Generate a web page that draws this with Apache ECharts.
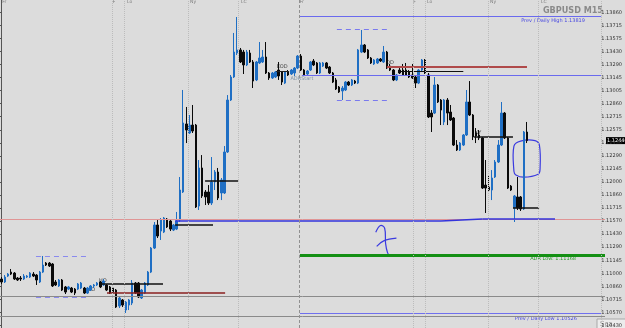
<!DOCTYPE html>
<html><head><meta charset="utf-8">
<script src="https://cdn.jsdelivr.net/npm/echarts/dist/echarts.min.js"></script>
<style>html,body{margin:0;padding:0;background:#dcdcdc;overflow:hidden}#c{width:625px;height:328px}</style>
</head><body><div id="c"></div><script>
// GBPUSD M15 bars
const open=[1.10908,1.10875,1.10941,1.10985,1.10974,1.10919,1.10919,1.10908,1.10930,1.10930,
1.10963,1.10952,1.10875,1.10985,1.11085,1.11085,1.11074,1.10875,1.10831,1.10897,
1.10820,1.10797,1.10808,1.10797,1.10797,1.10808,1.10808,1.10753,1.10786,1.10831,
1.10842,1.10875,1.10842,1.10842,1.10820,1.10808,1.10786,1.10609,1.10676,1.10565,
1.10620,1.10642,1.10864,1.10864,1.10698,1.10753,1.10842,1.10985,1.11251,1.11506,
1.11439,1.11428,1.11572,1.11550,1.11450,1.11461,1.11561,1.11871,1.12624,1.12524,
1.12612,1.12612,1.11716,1.12137,1.11871,1.11871,1.11749,1.11982,1.12092,1.11860,
1.11860,1.12314,1.12889,1.13144,1.13409,1.13443,1.13420,1.13277,1.13409,1.13310,
1.13111,1.13299,1.13310,1.13365,1.13188,1.13133,1.13144,1.13221,1.13199,1.13077,
1.13199,1.13177,1.13188,1.13243,1.13376,1.13221,1.13177,1.13221,1.13321,1.13299,
1.13188,1.13265,1.13299,1.13254,1.13188,1.13111,1.13033,1.12989,1.13000,1.13088,
1.13055,1.13099,1.13077,1.13420,1.13498,1.13443,1.13354,1.13288,1.13299,1.13343,
1.13310,1.13420,1.13265,1.13221,1.13111,1.13221,1.13221,1.13221,1.13199,1.13166,
1.13144,1.13077,1.13221,1.13332,1.13166,1.12745,1.12745,1.13055,1.12889,1.12646,
1.12889,1.12756,1.12690,1.12391,1.12336,1.12391,1.12502,1.12867,1.12723,1.12524,
1.12502,1.12469,1.11948,1.11926,1.11893,1.12037,1.12203,1.12391,1.12745,1.12469,
1.11937,1.11694,1.11816,1.11816,1.11683,1.12535];
const close=[1.10875,1.10930,1.10963,1.10963,1.10908,1.10897,1.10908,1.10941,1.10941,1.10974,
1.10941,1.10897,1.10985,1.11063,1.11063,1.11052,1.10831,1.10842,1.10897,1.10786,
1.10764,1.10820,1.10764,1.10753,1.10853,1.10864,1.10753,1.10808,1.10831,1.10842,
1.10864,1.10820,1.10886,1.10786,1.10753,1.10764,1.10598,1.10698,1.10620,1.10653,
1.10676,1.10864,1.10753,1.10709,1.10786,1.10864,1.10985,1.11251,1.11506,1.11384,
1.11561,1.11583,1.11484,1.11461,1.11506,1.11550,1.11893,1.12635,1.12557,1.12612,
1.12546,1.11705,1.12137,1.11827,1.11816,1.11749,1.11982,1.12092,1.11805,1.12004,
1.12314,1.12889,1.13144,1.13420,1.13443,1.13310,1.13277,1.13420,1.13310,1.13099,
1.13310,1.13354,1.13365,1.13188,1.13133,1.13188,1.13199,1.13155,1.13088,1.13199,
1.13166,1.13221,1.13243,1.13376,1.13221,1.13166,1.13210,1.13310,1.13277,1.13188,
1.13299,1.13299,1.13243,1.13188,1.13088,1.13011,1.12978,1.13022,1.13088,1.13055,
1.13111,1.13077,1.13443,1.13498,1.13420,1.13354,1.13299,1.13332,1.13343,1.13321,
1.13420,1.13243,1.13221,1.13111,1.13166,1.13188,1.13166,1.13166,1.13144,1.13133,
1.13077,1.13221,1.13332,1.13188,1.12701,1.12701,1.13055,1.12867,1.12778,1.12889,
1.12745,1.12668,1.12391,1.12336,1.12413,1.12502,1.12867,1.12723,1.12480,1.12491,
1.12469,1.11915,1.11915,1.11893,1.12026,1.12203,1.12391,1.12745,1.12469,1.11915,
1.11893,1.11827,1.11694,1.11683,1.12535,1.12440];
const low=[1.10853,1.10864,1.10930,1.10952,1.10897,1.10886,1.10886,1.10897,1.10919,1.10919,
1.10930,1.10842,1.10864,1.10974,1.11052,1.11041,1.10820,1.10831,1.10820,1.10775,
1.10742,1.10786,1.10753,1.10731,1.10786,1.10797,1.10742,1.10742,1.10775,1.10808,
1.10831,1.10808,1.10831,1.10775,1.10742,1.10753,1.10587,1.10587,1.10598,1.10532,
1.10565,1.10620,1.10742,1.10698,1.10687,1.10742,1.10831,1.10974,1.11240,1.11362,
1.11340,1.11417,1.11473,1.11439,1.11439,1.11450,1.11539,1.11860,1.12413,1.12513,
1.12524,1.11694,1.11672,1.11805,1.11727,1.11727,1.11727,1.11893,1.11782,1.11782,
1.11849,1.12303,1.12878,1.13133,1.13387,1.13299,1.13177,1.13265,1.13299,1.13022,
1.13099,1.13288,1.13299,1.13177,1.13111,1.13122,1.13133,1.13111,1.13055,1.13066,
1.13155,1.13166,1.13155,1.13232,1.13210,1.13155,1.13166,1.13210,1.13265,1.13177,
1.13177,1.13254,1.13232,1.13177,1.13077,1.13000,1.12967,1.12889,1.12989,1.13044,
1.13044,1.13066,1.13066,1.13409,1.13409,1.13343,1.13288,1.13277,1.13288,1.13310,
1.13299,1.13232,1.13210,1.13099,1.13099,1.13177,1.13155,1.13155,1.13133,1.13122,
1.13022,1.13066,1.13210,1.13177,1.12690,1.12535,1.12734,1.12856,1.12612,1.12612,
1.12612,1.12657,1.12380,1.12325,1.12325,1.12380,1.12491,1.12712,1.12446,1.12413,
1.12446,1.11904,1.11639,1.11871,1.11782,1.12026,1.12192,1.12380,1.12458,1.11904,
1.11882,1.11539,1.11672,1.11661,1.11672,1.12413];
const high=[1.10930,1.10952,1.10974,1.11019,1.10985,1.10930,1.10941,1.10963,1.10952,1.10985,
1.10985,1.10963,1.10997,1.11163,1.11096,1.11096,1.11085,1.10897,1.10908,1.10908,
1.10831,1.10831,1.10820,1.10808,1.10864,1.10875,1.10820,1.10820,1.10842,1.10853,
1.10875,1.10886,1.10908,1.10853,1.10831,1.10820,1.10797,1.10709,1.10687,1.10665,
1.10687,1.10897,1.10875,1.10875,1.10797,1.10875,1.10997,1.11262,1.11539,1.11561,
1.11583,1.11594,1.11583,1.11561,1.11517,1.11650,1.12037,1.13000,1.12812,1.12723,
1.12834,1.12624,1.12225,1.12280,1.11893,1.11948,1.12258,1.12114,1.12137,1.12026,
1.12380,1.12944,1.13166,1.13631,1.13808,1.13465,1.13443,1.13443,1.13443,1.13332,
1.13321,1.13531,1.13443,1.13531,1.13199,1.13199,1.13210,1.13310,1.13210,1.13210,
1.13221,1.13232,1.13254,1.13387,1.13398,1.13232,1.13221,1.13321,1.13343,1.13310,
1.13310,1.13310,1.13310,1.13265,1.13199,1.13133,1.13044,1.13044,1.13099,1.13099,
1.13122,1.13111,1.13454,1.13664,1.13509,1.13454,1.13365,1.13343,1.13354,1.13354,
1.13487,1.13432,1.13288,1.13232,1.13177,1.13265,1.13288,1.13299,1.13221,1.13288,
1.13155,1.13232,1.13343,1.13343,1.13188,1.12778,1.13144,1.13066,1.12900,1.12900,
1.12911,1.12834,1.12701,1.12446,1.12424,1.12513,1.13000,1.13099,1.12734,1.12579,
1.12557,1.12480,1.12225,1.12059,1.12114,1.12225,1.12446,1.12867,1.12756,1.12480,
1.11948,1.11838,1.12037,1.11827,1.12546,1.12646];
// price scale labels, top to bottom
const tickLabels=["1.13860","1.13715","1.13575","1.13430","1.13290","1.13145","1.13005","1.12860","1.12715","1.12575","1.12430","1.12290","1.12145","1.12000","1.11860","1.11715","1.11570","1.11430","1.11290","1.11145","1.11000","1.10860","1.10715","1.10570","1.10430"];
// level prices of the drawn lines
const levelPrices={prevHigh:1.13819,adrStart:1.13166,boxTop:1.13669,boxBot:1.12889,boxLTop:1.11163,boxLBot:1.10709,
 ddRed:1.13254,ddBlack:1.13205,eod:1.13210,hiA:1.11993,hiB:1.11506,loA:1.10853,loRed:1.10753,xy:1.12480,lastLo:1.11694,
 pink:1.11572,drawnA:1.11550,drawnB:1.11572,grayA:1.10714,grayB:1.10499,prevLow:1.10526,adrLow:1.11168};
const sessionLabels=["Fr","F","Lo","Ny","LC","Fr","F","Lo","Ny","LC"];
const totalSlots=190;

const cats=[];for(let i=0;i<totalSlots;i++)cats.push(String(i));
const candles=open.map((o,i)=>[o,close[i],low[i],high[i]]);
const L=levelPrices;
function seg(x1,x2,p,color,width,type,p2){return [{coord:[x1,p],lineStyle:{color:color,width:width,type:type||'solid'}},{coord:[x2,p2===undefined?p:p2]}];}
const segs=[
 seg(93.7,188.3,L.prevHigh,'#6a6aee',1),
 seg(94.3,188.3,L.adrStart,'#6a6aee',1),
 seg(105.3,121.0,L.boxTop,'#7a7aee',1,[5,4]),
 seg(105.3,121.0,L.boxBot,'#7a7aee',1,[5,4]),
 seg(10.8,26.8,L.boxLTop,'#8a8aee',1,[5,4]),
 seg(10.8,26.8,L.boxLBot,'#8a8aee',1,[5,4]),
 seg(121.0,165.0,L.ddRed,'#b04a4a',2),
 seg(124.5,145.0,L.ddBlack,'#111',1),
 seg(86.2,90.3,L.eod,'#222',1),
 seg(63.9,74.3,L.hiA,'#111',1.5),
 seg(54.5,66.4,L.hiB,'#111',1.5),
 seg(30.9,50.7,L.loA,'#111',1.5),
 seg(33.1,70.2,L.loRed,'#8b2020',1.5),
 seg(148.4,160.6,L.xy,'#111',1.5),
 seg(160.6,168.8,L.lastLo,'#111',1.5),
 seg(-0.5,189.5,L.pink,'#e09595',1),
 seg(54.5,138,L.drawnA,'#3434dc',1.5),
 seg(138,151,L.drawnA,'#3434dc',1.5,'solid',L.drawnB),
 seg(151,173.8,L.drawnB,'#3434dc',1.5),
 seg(-0.5,189.5,L.grayA,'#8a8a8a',1),
 seg(-0.5,189.5,L.grayB,'#8a8a8a',1),
 seg(93.7,188.3,L.prevLow,'#7070ee',1),
 seg(93.7,189.5,L.adrLow,'#149014',3)
];
const vDotted=[34.7,38.4,58.5,74.3,129.2,133.0,152.8,168.5,188.3];
const vMarks=vDotted.map(v=>({xAxis:v,lineStyle:{color:'#bcbcbc',type:'dotted',width:1}}));
vMarks.push({xAxis:93.4,lineStyle:{color:'#909090',type:[3,2],width:1}});
const sessionIdx=[0.2,34.9,39.4,59.2,75.2,93.6,129.3,133.6,153.4,169.4];

const yMin=1.10366,yMax=1.13996;
const chart=echarts.init(document.getElementById('c'),null,{renderer:'canvas'});
chart.setOption({
 animation:false,backgroundColor:'#dcdcdc',
 grid:[{left:0,right:20,top:0,bottom:0},{left:0,right:20,top:12.3,bottom:1.3}],
 xAxis:[
  {type:'category',gridIndex:0,data:cats,show:false,boundaryGap:true},
  {type:'value',gridIndex:0,min:-0.5,max:totalSlots-0.5,show:false},
  {type:'value',gridIndex:1,show:false,min:0,max:1}
 ],
 yAxis:[
  {type:'value',gridIndex:0,min:yMin,max:yMax,position:'right',splitLine:{show:false},axisLabel:{show:false},axisTick:{show:false},axisLine:{show:true,lineStyle:{color:'#555',width:1}}},
  {type:'category',gridIndex:1,data:tickLabels,inverse:true,boundaryGap:false,position:'right',axisLine:{show:false},
   axisTick:{show:true,length:2,lineStyle:{color:'#555'}},
   axisLabel:{show:true,fontSize:5,color:'#333',margin:3,fontFamily:'DejaVu Sans',interval:0},splitLine:{show:false}}
 ],
 series:[
  {type:'candlestick',xAxisIndex:0,yAxisIndex:0,data:candles,barWidth:2,
   itemStyle:{color:'#1f6fc4',color0:'#0a0a0a',borderColor:'#1f6fc4',borderColor0:'#0a0a0a',borderWidth:1}},
  {type:'line',xAxisIndex:1,yAxisIndex:0,data:[],silent:true,
   markLine:{symbol:['none','none'],silent:true,animation:false,label:{show:false},data:segs.concat(vMarks)}}
 ]
});

function px(i,p){return chart.convertToPixel({xAxisIndex:1,yAxisIndex:0},[i,p]);}
const g=[];
function txt(i,p,t,color,align,size,weight){const q=px(i,p);g.push({type:'text',x:q[0],y:q[1],silent:true,style:{text:t,fill:color,fontSize:size||5,fontFamily:'DejaVu Sans',fontWeight:weight||'normal',textAlign:align||'left',textVerticalAlign:'middle'}});}
// session labels along the top
sessionLabels.forEach((s,k)=>txt(sessionIdx[k],1.13974,s,'#7a7a7a','left',4.5));
txt(183.2,1.13764,'Prev / Daily High '+L.prevHigh.toFixed(5),'#4848e0','right');
txt(180.4,1.11135,'ADR Low: '+L.adrLow.toFixed(5),'#2a9a2a','right');
txt(180.7,1.10471,'Prev / Daily Low '+L.prevLow.toFixed(5),'#4848e0','right');
txt(88.1,1.13262,'EOD','#444','center');
txt(94.3,1.13122,'ADRStart','#7d93a8','center');
txt(122.0,1.13299,'DD','#444','center');
txt(149.6,1.12524,'XY','#444','center');
txt(28.4,1.10786,'LO','#444','center');
txt(31.8,1.10886,'HO','#444','center');
// title
g.push({type:'text',right:22,top:6,silent:true,style:{text:'GBPUSD M15',fill:'#8a8a8a',fontSize:9,fontWeight:'bold',fontFamily:'DejaVu Sans Condensed, DejaVu Sans'}});
// current price marker
const last=close[close.length-1];
const ly=chart.convertToPixel({yAxisIndex:0},last);
g.push({type:'rect',shape:{x:606,y:ly-3.5,width:19,height:7},style:{fill:'#000'},silent:true});
g.push({type:'text',x:607,y:ly,silent:true,style:{text:last.toFixed(5),fill:'#fff',fontSize:5,fontFamily:'DejaVu Sans',textVerticalAlign:'middle'}});
// hand-drawn box around last bar
const bx=[[160.9,1.12380],[163,1.12435],[167.5,1.12440],[168.9,1.12390],[169.1,1.12120],[168.5,1.12068],[164,1.12035],[161.5,1.12060],[160.9,1.12100]].map(a=>px(a[0],a[1]));
g.push({type:'polygon',shape:{points:bx,smooth:0.35},style:{fill:'none',stroke:'#3a3ae0',lineWidth:1.2},silent:true});
// hand-drawn scribble
const sc=[[117.5,1.11425],[119,1.11500],[120.3,1.11470],[120.6,1.11300],[121.2,1.11200],[122,1.11160],[122.6,1.11180]].map(a=>px(a[0],a[1]));
g.push({type:'polyline',shape:{points:sc,smooth:0.4},style:{stroke:'#3a3ae0',lineWidth:1.2,fill:'none'},silent:true});
const sc2=[[117.8,1.11270],[120,1.11330],[124,1.11360]].map(a=>px(a[0],a[1]));
g.push({type:'polyline',shape:{points:sc2,smooth:0.4},style:{stroke:'#3a3ae0',lineWidth:1.2,fill:'none'},silent:true});
// Sca button
g.push({type:'rect',shape:{x:597,y:319,width:30,height:11},style:{fill:'#ececec',stroke:'#a8a8a8',lineWidth:1},silent:true});
g.push({type:'text',x:600,y:324.5,silent:true,style:{text:'Sca',fill:'#888',fontSize:7,fontFamily:'DejaVu Sans',textVerticalAlign:'middle'}});
chart.setOption({graphic:g});
</script></body></html>
